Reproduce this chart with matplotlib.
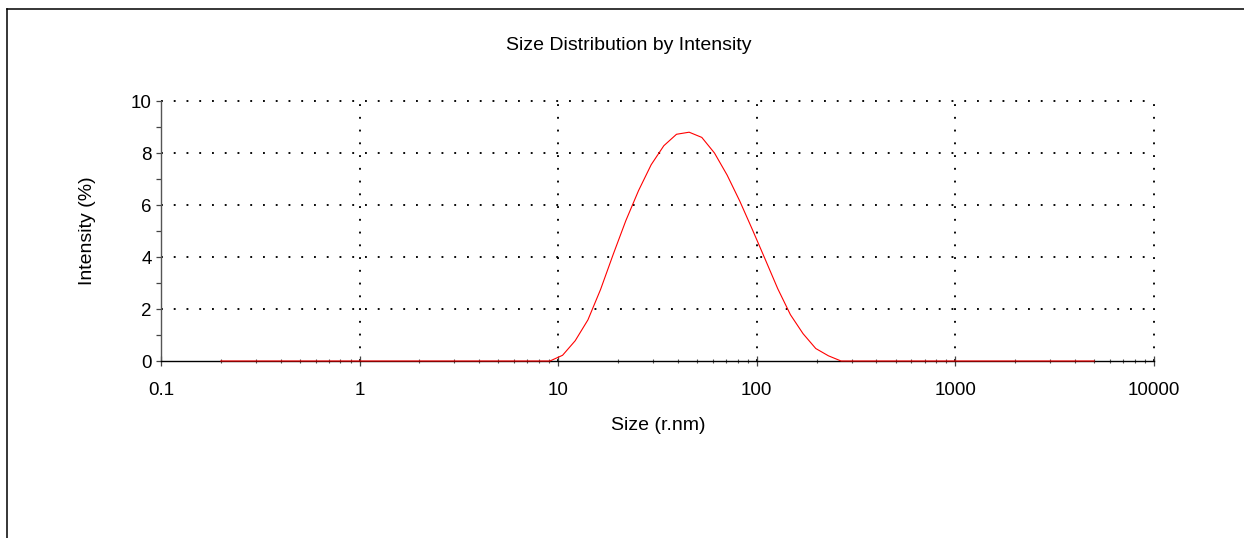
import matplotlib
matplotlib.use("Agg")
import matplotlib.pyplot as plt
from matplotlib.lines import Line2D
from matplotlib.ticker import LogLocator, FixedLocator, NullFormatter

plt.rcParams['font.family'] = ['Liberation Sans', 'DejaVu Sans']

# Size bins (radius, nm)
sizes_rnm = [0.2, 0.2316, 0.2683, 0.3106, 0.3597, 0.4166, 0.4825, 0.5587, 0.6470, 0.7494,
             0.8679, 1.005, 1.164, 1.348, 1.561, 1.808, 2.093, 2.424, 2.808, 3.251,
             3.765, 4.360, 5.050, 5.849, 6.772, 7.843, 9.085, 10.52, 12.18, 14.11,
             16.34, 18.92, 21.91, 25.37, 29.39, 34.03, 39.41, 45.64, 52.85, 61.21,
             70.89, 82.09, 95.06, 110.1, 127.5, 147.7, 171.0, 198.1, 229.4, 265.7,
             307.7, 356.3, 412.7, 477.9, 553.4, 640.9, 742.2, 859.5, 995.4, 1153,
             1335, 1546, 1790, 2073, 2401, 2780, 3220, 3728, 4318, 5000]
# Intensity (%)
intensity = [0, 0, 0, 0, 0, 0, 0, 0, 0, 0,
             0, 0, 0, 0, 0, 0, 0, 0, 0, 0,
             0, 0, 0, 0, 0, 0, 0, 0.22, 0.78, 1.58,
             2.75, 4.10, 5.40, 6.55, 7.55, 8.28, 8.72, 8.80, 8.60, 8.00,
             7.15, 6.15, 5.05, 3.92, 2.78, 1.78, 1.05, 0.48, 0.20, 0,
             0, 0, 0, 0, 0, 0, 0, 0, 0, 0,
             0, 0, 0, 0, 0, 0, 0, 0, 0, 0]

x_ticks = [0.1, 1, 10, 100, 1000, 10000]
x_tick_labels = ["0.1", "1", "10", "100", "1000", "10000"]
y_ticks = [0, 2, 4, 6, 8, 10]

title = "Size Distribution by Intensity"
xlabel = "Size (r.nm)"
ylabel = "Intensity (%)"

W, H = 1244, 538
fig = plt.figure(figsize=(W / 100, H / 100), dpi=100)
ax = fig.add_axes([161 / W, 1 - 361 / H, (1154 - 161) / W, (361 - 101) / H])

ax.set_xscale('log')
ax.set_xlim(0.1, 10000)
ax.set_ylim(0, 10)

ax.plot(sizes_rnm, intensity, color='#ff0000', lw=0.8, zorder=3, clip_on=False)

# grid
dot = (0, (1, 5.8))
for xv in x_ticks[1:]:
    ax.axvline(xv, color='black', lw=1.35, ls=dot, zorder=1, clip_on=False)
for yv in y_ticks[1:]:
    ax.axhline(yv, color='black', lw=1.35, ls=dot, zorder=1, clip_on=False)

for s in ['top', 'right']:
    ax.spines[s].set_visible(False)
ax.spines['left'].set_color('#555555')
ax.spines['left'].set_linewidth(1.0)
ax.spines['bottom'].set_color('black')
ax.spines['bottom'].set_linewidth(1.0)

ax.xaxis.set_major_locator(FixedLocator(x_ticks))
ax.set_xticklabels(x_tick_labels)
ax.xaxis.set_minor_locator(LogLocator(base=10, subs=range(2, 10), numticks=20))
ax.xaxis.set_minor_formatter(NullFormatter())
ax.tick_params(axis='x', which='major', direction='inout', length=6.5, width=0.9,
               color='#444444', labelsize=13.5, pad=12)
ax.tick_params(axis='x', which='minor', direction='inout', length=3.5, width=0.8,
               color='#555555')

ax.set_yticks(y_ticks)
ax.set_yticks([1, 3, 5, 7, 9], minor=True)
ax.tick_params(axis='y', which='major', direction='out', length=3.8, width=0.9,
               color='#444444', labelsize=13.5, pad=3)
ax.tick_params(axis='y', which='minor', direction='out', length=3.8, width=0.9,
               color='#444444')

ax.set_xlabel(xlabel, fontsize=14)
ax.set_ylabel(ylabel, fontsize=14)
ax.xaxis.set_label_coords((658 - 161) / 993, (361 - 417) / 260)
ax.yaxis.set_label_coords((96 - 161) / 993, 0.5)

fig.text(629 / W, 1 - 45 / H, title, ha='center', va='center', fontsize=14)

# outer frame lines (top and left)
fig.add_artist(Line2D([7 / W, 1], [1 - 9 / H, 1 - 9 / H], transform=fig.transFigure,
                      color='black', lw=1.1))
fig.add_artist(Line2D([7 / W, 7 / W], [0, 1 - 9 / H], transform=fig.transFigure,
                      color='black', lw=1.1))

fig.savefig('out.png', dpi=100)
